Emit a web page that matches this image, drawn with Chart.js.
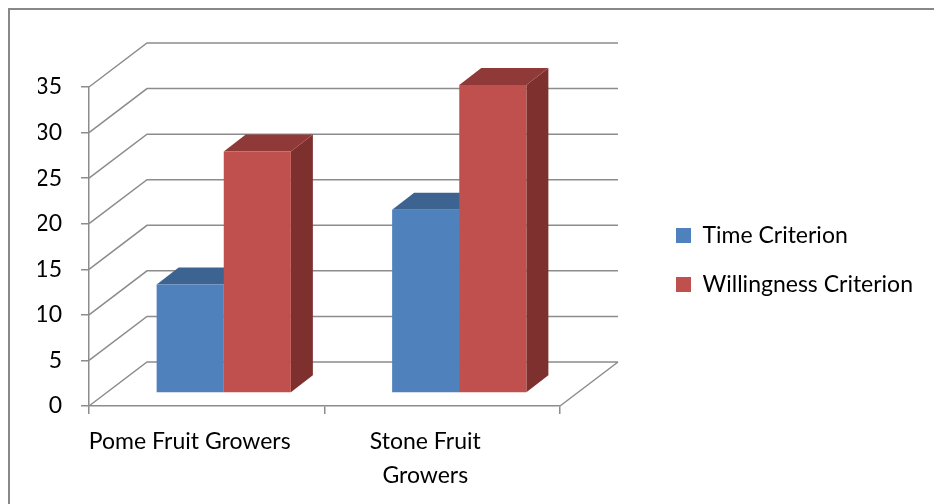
<!DOCTYPE html>
<html>
<head>
<meta charset="utf-8">
<script src="https://cdn.jsdelivr.net/npm/chart.js@4.4.1/dist/chart.umd.min.js"></script>
<style>
  html, body { margin: 0; padding: 0; background: #fff; }
  canvas { display: block; }
</style>
</head>
<body>
<canvas id="chart" width="934" height="504"></canvas>
<script>
// Data
const categories = [['Pome Fruit Growers'], ['Stone Fruit', 'Growers']];
const seriesNames = ['Time Criterion', 'Willingness Criterion'];
const timeValues = [11.9, 20.1];
const willingnessValues = [26.5, 33.8];
const yTicks = [0, 5, 10, 15, 20, 25, 30, 35];

// Excel-like 3D look
const frontColors = ['#4F81BD', '#C0504D'];
const topColors = ['#3D6491', '#8F3A38'];
const sideColors = ['#36587F', '#7D302E'];
const lineColor = '#8c8c8c';
const WALL_DX = 58, WALL_DY = -44;     // floor/back wall depth
const SHIFT_X = 17, SHIFT_Y = -13;     // bars sit a bit into the depth
const BAR_DX = 22, BAR_DY = -17;       // bar depth

const font = { family: 'Lato', size: 23 };

const threeD = {
    id: 'threeD',
    afterLayout(chart) {
        // legend sits further right than Chart.js would put it
        const lg = chart.legend;
        const w = lg.width, h = lg.height;
        lg.left = 650; lg.right = lg.left + w;
        lg.top = 198; lg.bottom = lg.top + h;
    },
    beforeDraw(chart) {
        const ctx = chart.ctx;
        ctx.save();
        ctx.strokeStyle = '#888';
        ctx.lineWidth = 2;
        ctx.strokeRect(9, 9, 1000, 1000);
        ctx.restore();
    },
    beforeDatasetsDraw(chart) {
        const ctx = chart.ctx;
        const area = chart.chartArea;
        const y = chart.scales.y;

        // side wall diagonals + back wall gridlines
        ctx.save();
        ctx.strokeStyle = lineColor;
        ctx.lineWidth = 1.5;
        ctx.beginPath();
        yTicks.forEach(v => {
            const py = y.getPixelForValue(v);
            ctx.moveTo(area.left, py);
            ctx.lineTo(area.left + WALL_DX, py + WALL_DY);
            ctx.lineTo(area.right + WALL_DX, py + WALL_DY);
        });
        ctx.moveTo(area.right, area.bottom);
        ctx.lineTo(area.right + WALL_DX, area.bottom + WALL_DY);
        ctx.stroke();
        ctx.restore();

        // top and side faces; the fronts drawn by Chart.js cover them where needed
        ctx.save();
        ctx.translate(SHIFT_X, SHIFT_Y);
        chart.data.datasets.forEach((ds, i) => {
            chart.getDatasetMeta(i).data.forEach(bar => {
                const l = bar.x - bar.width / 2, r = bar.x + bar.width / 2;
                const t = bar.y, b = bar.base;
                ctx.fillStyle = sideColors[i];
                ctx.beginPath();
                ctx.moveTo(r, t);
                ctx.lineTo(r + BAR_DX, t + BAR_DY);
                ctx.lineTo(r + BAR_DX, b + BAR_DY);
                ctx.lineTo(r, b);
                ctx.closePath();
                ctx.fill();
                ctx.fillStyle = topColors[i];
                ctx.beginPath();
                ctx.moveTo(l, t);
                ctx.lineTo(l + BAR_DX, t + BAR_DY);
                ctx.lineTo(r + BAR_DX, t + BAR_DY);
                ctx.lineTo(r, t);
                ctx.closePath();
                ctx.fill();
            });
        });
    },
    afterDatasetsDraw(chart) {
        chart.ctx.restore();
    }
};

new Chart(document.getElementById('chart').getContext('2d'), {
    type: 'bar',
    data: {
        labels: categories,
        datasets: [{
            label: seriesNames[0],
            data: timeValues,
            backgroundColor: frontColors[0],
            borderWidth: 0
        }, {
            label: seriesNames[1],
            data: willingnessValues,
            backgroundColor: frontColors[1],
            borderWidth: 0
        }]
    },
    options: {
        responsive: false,
        animation: false,
        layout: { padding: { left: 38, top: 87, right: 101, bottom: 0 } },
        datasets: {
            bar: { barPercentage: 1, categoryPercentage: 0.57, clip: false }
        },
        scales: {
            x: {
                grid: { drawOnChartArea: false, color: lineColor, lineWidth: 1.5, tickLength: 8 },
                border: { color: lineColor, width: 1.5 },
                ticks: { font: { ...font, lineHeight: 1.5 }, color: '#000', padding: 10, maxRotation: 0, labelOffset: -17 },
                afterFit(s) { s.height = 98; }
            },
            y: {
                min: 0,
                max: 35,
                ticks: { stepSize: 5, font, color: '#000', padding: 19 },
                grid: { drawOnChartArea: false, color: lineColor, lineWidth: 1.5, tickLength: 8 },
                border: { color: lineColor, width: 1.5 },
                afterFit(s) { s.width = 51; }
            }
        },
        plugins: {
            legend: {
                position: 'right',
                align: 'start',
                maxWidth: 400,
                labels: { boxWidth: 15, boxHeight: 15, padding: 26, color: '#000', font }
            },
            tooltip: { enabled: false }
        }
    },
    plugins: [threeD]
});
</script>
</body>
</html>
